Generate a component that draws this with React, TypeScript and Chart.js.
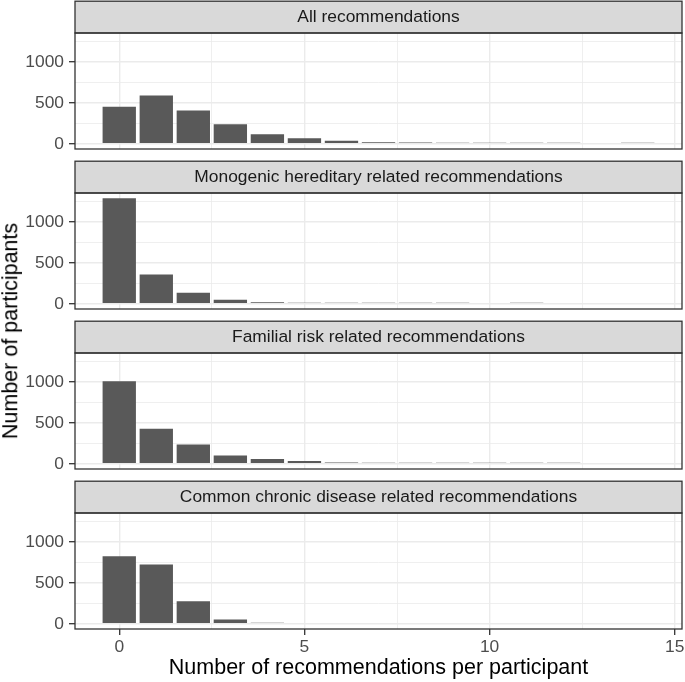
import React, { useEffect, useRef } from 'react';
import { Chart, registerables } from 'chart.js';

Chart.register(...registerables);

// ---------- data ----------
const COUNTS = [0, 1, 2, 3, 4, 5, 6, 7, 8, 9, 10, 11, 12, 13, 14];

const PANEL_TITLES = [
  'All recommendations',
  'Monogenic hereditary related recommendations',
  'Familial risk related recommendations',
  'Common chronic disease related recommendations',
];

const ALL_RECS = [452, 590, 406, 238, 115, 66, 37, 17, 15, 10, 7, 7, 7, null, 6];
const MONOGENIC = [1290, 359, 135, 49, 18, 10, 7, 7, 7, 6, null, 5, null, null, null];
const FAMILIAL = [1008, 427, 236, 102, 57, 33, 16, 9, 7, 6, 7, 6, 5, null, null];
const COMMON_CHRONIC = [825, 724, 276, 53, 8, null, null, null, null, null, null, null, null, null, null];

const SERIES = [ALL_RECS, MONOGENIC, FAMILIAL, COMMON_CHRONIC];

const X_TICK_LABELS = [0, 5, 10, 15];
const Y_TICK_LABELS = [0, 500, 1000];
const X_LIMITS = [-1.195, 15.195];
const Y_LIMITS = [-64.5, 1354.5];

const X_TITLE = 'Number of recommendations per participant';
const Y_TITLE = 'Number of participants';

// ---------- style ----------
const FONT = "'Liberation Sans', Arial, Helvetica, sans-serif";
const BAR_COLOR = '#595959';
const GRID_COLOR = '#EBEBEB';
const DARK = '#333333';
const TICK_TEXT = '#4D4D4D';
const PANEL_STEP = 160;
const LAST_H = 202;

function gridValues(majors: number[], limit: number): number[] {
  const half = (majors[1] - majors[0]) / 2;
  const out: number[] = [];
  for (let v = majors[0]; v <= limit + 1e-9; v += half) out.push(v);
  return out;
}

const isMajor = (majors: number[], v: number) => majors.some((m) => Math.abs(m - v) < 1e-9);

function facetPlugin(title: string) {
  return {
    id: 'facetStrip',
    afterDraw(chart: any) {
      const { ctx, chartArea: a } = chart;
      ctx.save();
      const top = 1.2;
      ctx.fillStyle = '#D9D9D9';
      ctx.fillRect(a.left, top, a.right - a.left, a.top - top);
      ctx.strokeStyle = DARK;
      ctx.lineWidth = 1.3;
      ctx.strokeRect(a.left, top, a.right - a.left, a.top - top);
      ctx.strokeRect(a.left, a.top, a.right - a.left, a.bottom - a.top);
      ctx.fillStyle = '#1A1A1A';
      ctx.font = `17.4px ${FONT}`;
      ctx.textAlign = 'center';
      ctx.textBaseline = 'middle';
      ctx.fillText(title, (a.left + a.right) / 2, (top + a.top) / 2 + 0.5);
      ctx.restore();
    },
  };
}

function Panel({ index }: { index: number }) {
  const ref = useRef<HTMLCanvasElement | null>(null);
  const last = index === SERIES.length - 1;

  useEffect(() => {
    if (!ref.current) return;
    const values = SERIES[index];
    const points = COUNTS.map((c, i) => ({ x: c, y: values[i] })).filter((p) => p.y !== null);
    const xGrid = gridValues(X_TICK_LABELS, X_TICK_LABELS[X_TICK_LABELS.length - 1]);
    const yGrid = gridValues(Y_TICK_LABELS, Y_LIMITS[1]);

    const chart = new Chart(ref.current, {
      type: 'bar',
      data: {
        datasets: [
          {
            data: points as any,
            backgroundColor: BAR_COLOR,
            borderWidth: 0,
            barPercentage: 0.9,
            categoryPercentage: 1.0,
            minBarLength: 1,
          },
        ],
      },
      options: {
        animation: false,
        responsive: true,
        maintainAspectRatio: false,
        layout: { padding: { top: 33, right: 3, bottom: last ? 0 : 11, left: 0 } },
        plugins: { legend: { display: false }, tooltip: { enabled: false } },
        scales: {
          x: {
            type: 'linear',
            min: X_LIMITS[0],
            max: X_LIMITS[1],
            offset: false,
            afterBuildTicks: (s: any) => {
              s.ticks = xGrid.map((v) => ({ value: v }));
            },
            afterFit: (s: any) => {
              s.height = last ? LAST_H - 149 : 0;
              s.paddingLeft = 0;
              s.paddingRight = 0;
            },
            border: { display: false },
            grid: {
              offset: false,
              color: GRID_COLOR,
              lineWidth: (c: any) => (isMajor(X_TICK_LABELS, c.tick?.value) ? 1.4 : 0.8),
              drawTicks: last,
              tickLength: 6,
              tickWidth: 1.3,
              tickColor: (c: any) => (isMajor(X_TICK_LABELS, c.tick?.value) ? DARK : 'rgba(0,0,0,0)'),
            },
            ticks: {
              display: last,
              autoSkip: false,
              maxRotation: 0,
              padding: 2,
              color: TICK_TEXT,
              font: { family: FONT, size: 17.4 },
              callback: (v: any) => (isMajor(X_TICK_LABELS, Number(v)) ? String(v) : ''),
            },
            title: {
              display: last,
              text: X_TITLE,
              color: '#000000',
              font: { family: FONT, size: 21.5 },
              padding: { top: 0, bottom: 1 },
            },
          },
          y: {
            type: 'linear',
            min: Y_LIMITS[0],
            max: Y_LIMITS[1],
            afterBuildTicks: (s: any) => {
              s.ticks = yGrid.map((v) => ({ value: v }));
            },
            afterFit: (s: any) => {
              s.width = 75;
              s.paddingTop = 0;
              s.paddingBottom = 0;
            },
            border: { display: false },
            grid: {
              color: GRID_COLOR,
              lineWidth: (c: any) => (isMajor(Y_TICK_LABELS, c.tick?.value) ? 1.4 : 0.8),
              tickLength: 6,
              tickWidth: 1.3,
              tickColor: (c: any) => (isMajor(Y_TICK_LABELS, c.tick?.value) ? DARK : 'rgba(0,0,0,0)'),
            },
            ticks: {
              autoSkip: false,
              padding: 5,
              color: TICK_TEXT,
              font: { family: FONT, size: 17.4 },
              callback: (v: any) => (isMajor(Y_TICK_LABELS, Number(v)) ? String(v) : ''),
            },
          },
        },
      },
      plugins: [facetPlugin(PANEL_TITLES[index])],
    } as any);
    return () => chart.destroy();
  }, [index, last]);

  return (
    <div
      style={{
        position: 'absolute',
        left: 0,
        top: index * PANEL_STEP,
        width: 685,
        height: last ? LAST_H : PANEL_STEP,
      }}
    >
      <canvas ref={ref} />
    </div>
  );
}

export default function App() {
  return (
    <div
      style={{
        position: 'absolute',
        left: 0,
        top: 0,
        width: 685,
        height: 682,
        background: '#ffffff',
        overflow: 'hidden',
      }}
    >
      {SERIES.map((_, i) => (
        <Panel key={i} index={i} />
      ))}
      <div
        style={{
          position: 'absolute',
          left: 11,
          top: 331,
          transform: 'translate(-50%, -50%) rotate(-90deg)',
          whiteSpace: 'nowrap',
          fontFamily: FONT,
          fontSize: 21.5,
          lineHeight: 1,
          color: '#000000',
        }}
      >
        {Y_TITLE}
      </div>
    </div>
  );
}
